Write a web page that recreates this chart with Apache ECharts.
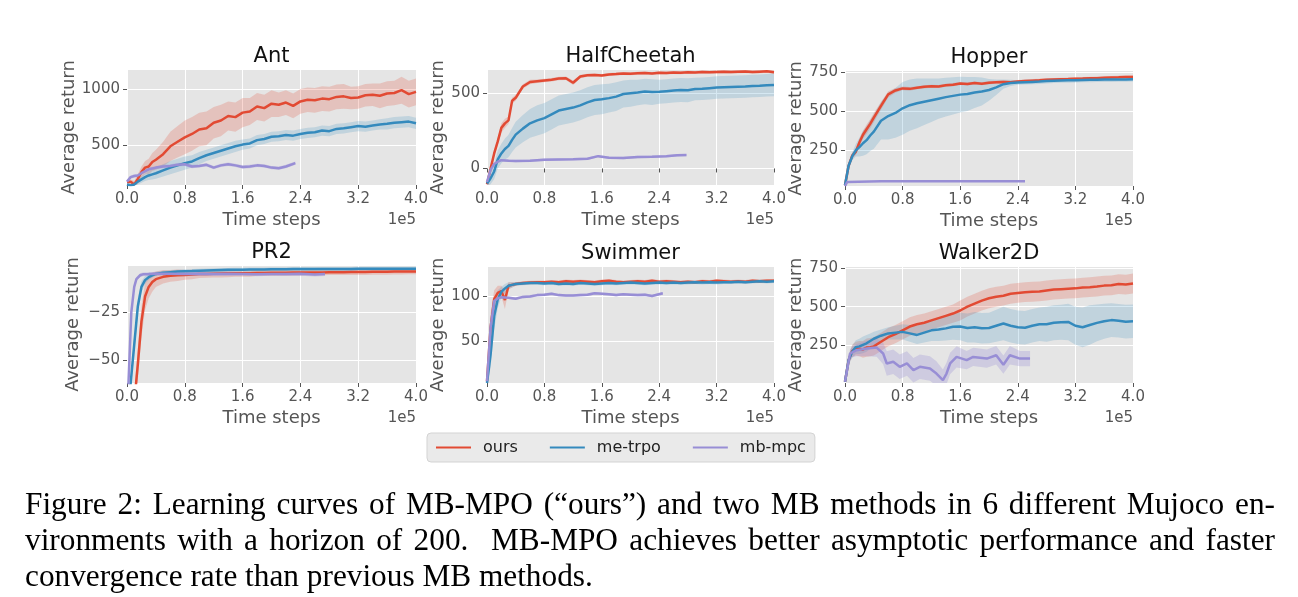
<!DOCTYPE html>
<html><head><meta charset="utf-8">
<script src="https://cdn.jsdelivr.net/npm/echarts@6/dist/echarts.min.js"></script>
<style>
html,body{margin:0;padding:0;background:#fff;width:1298px;height:597px;overflow:hidden;}
#chart{position:absolute;left:0;top:0;width:1298px;height:597px;}
#caption{position:absolute;left:25px;top:486px;width:1250px;font-family:'Liberation Serif','Times New Roman',serif;font-size:31.3px;line-height:36px;color:#000;}
#caption .j{text-align:justify;text-align-last:justify;}
</style></head><body>
<div id="chart"></div>
<div id="caption">
<div class="j">Figure 2: Learning curves of MB-MPO (“ours”) and two MB methods in 6 different Mujoco en-</div>
<div class="j">vironments with a horizon of 200.&nbsp; MB-MPO achieves better asymptotic performance and faster</div>
<div>convergence rate than previous MB methods.</div>
</div>
<script>
// ---------------- data ----------------
const panelTitles = ['Ant', 'HalfCheetah', 'Hopper', 'PR2', 'Swimmer', 'Walker2D'];
const methodNames = ['ours', 'me-trpo', 'mb-mpc'];
const xAxisName = 'Time steps';
const yAxisName = 'Average return';
const xScaleNote = '1e5';

// shared time grid (x 1e5) for ours / me-trpo
const steps = [0,0.05,0.1,0.15,0.2,0.25,0.3,0.35,0.4,
  0.5,0.6,0.7,0.8,0.9,1.0,1.1,1.2,1.3,1.4,
  1.5,1.6,1.7,1.8,1.9,2.0,2.1,2.2,2.3,2.4,
  2.5,2.6,2.7,2.8,2.9,3.0,3.1,3.2,3.3,3.4,
  3.5,3.6,3.7,3.8,3.9,4.0];

// Ant
const antOurs = [170,175,150,200,260,300,310,350,370,
  420,490,530,570,600,640,650,700,720,760,
  750,790,800,845,830,870,860,880,850,890,
  905,900,915,910,930,935,920,925,945,950,
  940,960,965,990,955,975];
const antOursSpread = [10,20,30,40,50,60,70,80,90,
  110,130,140,150,150,150,150,140,140,130,
  130,130,120,120,120,120,110,110,110,110,
  110,110,110,110,110,110,100,100,100,100,
  110,110,110,120,120,120];
const antTrpo = [150,140,150,175,195,215,230,240,250,
  275,300,320,340,355,385,410,430,450,470,
  490,505,515,545,555,575,580,590,585,600,
  610,615,630,625,645,650,660,670,665,675,
  685,690,700,705,710,695];
const antTrpoSpread = [10,15,20,25,30,35,40,45,50,
  55,60,60,60,55,55,50,50,50,50,
  50,45,45,45,45,45,45,45,45,45,
  45,45,45,45,45,45,45,45,45,45,
  45,50,50,50,50,50];
const antMpcX = [0,0.05,0.1,0.15,0.2,0.3,0.4,0.5,0.6,0.7,0.8,0.9,1.0,1.1,1.2,1.3,1.4,1.5,1.6,1.7,1.8,1.9,2.0,2.1,2.2,2.33];
const antMpc = [175,215,225,230,250,285,300,310,315,325,330,310,315,325,300,320,330,320,305,310,320,315,300,295,310,340];
const antMpcSpread = [10,15,15,15,15,15,15,15,15,15,15,15,15,15,15,15,15,15,15,15,15,15,15,15,15,15];

// HalfCheetah
const hcOurs = [-105,0,100,180,270,300,320,450,470,
  545,575,580,585,590,598,600,570,612,620,
  622,618,625,628,632,630,633,635,632,636,
  635,638,636,640,638,641,640,642,644,641,
  643,645,642,644,646,640];
const hcOursSpread = [10,15,20,25,30,30,25,20,20,
  15,15,12,12,12,12,12,15,12,10,
  10,10,10,10,10,10,10,10,10,10,
  10,10,10,10,10,10,10,10,10,10,
  10,10,10,10,10,10];
const hcTrpo = [-100,-65,-20,60,100,130,150,190,225,
  265,300,320,335,360,385,395,405,420,440,
  455,460,468,478,495,500,505,512,508,510,
  514,518,522,520,528,530,534,538,540,542,
  544,545,548,550,553,556];
const hcTrpoSpread = [20,40,50,60,65,70,75,80,85,
  90,95,100,100,100,100,100,100,100,100,
  100,100,95,95,90,90,85,85,85,80,
  80,80,80,80,75,75,75,75,75,75,
  75,75,75,75,75,75];
const hcMpcX = [0,0.05,0.1,0.15,0.2,0.3,0.4,0.6,0.8,1.0,1.2,1.4,1.55,1.7,1.9,2.1,2.3,2.5,2.65,2.78];
const hcMpc = [-90,-10,30,45,55,52,50,52,58,60,62,65,82,72,70,76,78,82,88,89];
const hcMpcSpread = [8,8,8,8,8,8,8,8,8,8,8,8,8,8,8,8,8,8,8,8];

// Hopper
const hopOurs = [25,150,215,240,300,350,385,420,460,
  535,610,635,648,645,652,658,662,660,668,
  672,680,676,683,678,685,688,690,688,692,
  695,698,700,703,705,707,708,710,711,713,
  714,716,718,719,721,722];
const hopOursSpread = [5,20,20,20,25,25,30,30,30,
  25,20,15,12,12,10,10,10,10,10,
  10,10,10,10,10,10,10,10,10,10,
  10,10,10,10,10,10,10,10,10,10,
  10,10,10,10,10,10];
const hopTrpo = [25,150,210,250,270,295,315,345,370,
  440,470,490,520,540,552,562,572,582,592,
  600,608,612,622,628,638,655,675,683,686,
  688,690,692,695,697,699,700,701,702,703,
  704,705,705,706,706,707];
const hopTrpoSpread = [5,20,25,40,60,80,90,100,110,
  120,150,160,170,165,160,150,140,130,125,
  120,115,110,100,90,70,50,30,20,15,
  15,15,15,15,15,15,15,15,15,15,
  15,15,15,15,15,15];
const hopMpcX = [0,0.03,0.05,0.5,1.0,1.5,2.0,2.5];
const hopMpc = [20,45,50,50,50,50,50,50];
const hopMpcSpread = [2,2,2,2,2,2,2,2];

// PR2
const pr2Ours = [-80,-80,-72,-52,-30,-17,-12,-9.5,-8,
  -6.8,-6.3,-6,-5.8,-5.6,-5.4,-5.3,-5.2,-5.1,-5,
  -5,-4.9,-4.9,-4.8,-4.8,-4.7,-4.7,-4.7,-4.6,-4.6,
  -4.5,-4.5,-4.5,-4.4,-4.4,-4.4,-4.3,-4.3,-4.3,-4.2,
  -4.2,-4.2,-4.1,-4.1,-4,-4];
const pr2OursSpread = [2,2,6,8,8,7,6,5,4,
  3.5,3,3,2.5,2.5,2,2,2,2,2,
  1.8,1.8,1.8,1.5,1.5,1.5,1.5,1.5,1.5,1.5,
  1.5,1.5,1.5,1.5,1.5,1.5,1.5,1.5,1.5,1.5,
  1.5,1.5,1.5,1.5,1.5,1.5];
const pr2Trpo = [-80,-62,-42,-22,-12,-8.5,-7,-6,-5.3,
  -4.7,-4.4,-4.1,-3.9,-3.8,-3.6,-3.5,-3.4,-3.3,-3.2,
  -3.1,-3.1,-3,-3,-3,-2.9,-2.9,-2.9,-2.8,-2.8,
  -2.8,-2.8,-2.7,-2.7,-2.7,-2.7,-2.7,-2.6,-2.6,-2.6,
  -2.6,-2.6,-2.6,-2.6,-2.6,-2.6];
const pr2TrpoSpread = [2,4,5,4,3,2,1.5,1.2,1,
  1,1,1,1,1,1,1,1,1,1,
  1,1,1,1,1,1,1,1,1,1,
  1,1,1,1,1,1,1,1,1,1,
  1,1,1,1,1,1];
const pr2MpcX = [0,0.02,0.06,0.1,0.13,0.18,0.22,0.3,0.4,0.6,0.8,1.0,1.2,1.4,1.6,1.8,2.0,2.2,2.4,2.6,2.74];
const pr2Mpc = [-80,-62,-25,-12,-8,-6,-5.5,-5.4,-5.2,-5.2,-5.3,-5.2,-5.4,-5.2,-5.3,-5.5,-5.3,-5.4,-5.2,-5.6,-5.4];
const pr2MpcSpread = [1,1,1,1,1,1,1,1,1,1,1,1,1,1,1,1,1,1,1,1,1];

// Swimmer
const swOurs = [5,65,97,104,106,96,112,113,114,
  115,115.5,116,116,116.5,116,117,116.5,117,116.5,
  116,117,117.5,116.5,116,116.5,117,116.5,117.5,116.5,
  117,116.5,116,116.5,116,117,116.5,117.5,117,116.5,
  117,116.5,117.5,117,117.5,117.5];
const swOursSpread = [2,15,10,8,6,10,4,3,2,
  2,2,2,2,2,2,2,2,2,2,
  2,2,2,2,2,2,2,2,2,2,
  2,2,2,2,2,2,2,2,2,2,
  2,2,2,2,2,2];
const swTrpo = [3,35,78,97,105,109,112,113,114,
  114.5,115,115,114.5,115,114,114.5,114,115,114.5,
  114,114.5,115,114.5,115,115.5,115,114.5,115,115.5,
  115,115.5,115,115.5,116,115.5,116,115.5,116,116,
  116.5,116,116.5,117,116.5,117];
const swTrpoSpread = [2,15,15,10,6,5,4,3,2,
  2,2,2,2,2,2,2,2,2,2,
  2,2,2,2,2,2,2,2,2,2,
  2,2,2,2,2,2,2,2,2,2,
  2,2,2,2,2,2];
const swMpcX = [0,0.05,0.1,0.15,0.2,0.3,0.4,0.5,0.6,0.7,0.8,0.9,1.0,1.1,1.2,1.3,1.4,1.5,1.6,1.7,1.8,1.9,2.0,2.1,2.2,2.3,2.45];
const swMpc = [5,65,95,98,99,98.5,97.5,99.5,100,101.5,102,103,101.5,101,101,101.5,102,103.5,103,102.5,101.5,102.5,102,101.5,102,100.5,103.5];
const swMpcSpread = [1.5,1.5,1.5,1.5,1.5,1.5,1.5,1.5,1.5,1.5,1.5,1.5,1.5,1.5,1.5,1.5,1.5,1.5,1.5,1.5,1.5,1.5,1.5,1.5,1.5,1.5,1.5];

// Walker2D
const wkOurs = [8,150,210,225,225,220,232,235,240,
  270,300,320,345,370,385,395,410,425,440,
  455,475,500,520,540,555,565,572,585,590,
  595,598,600,606,612,615,618,620,625,628,
  632,638,640,648,645,652];
const wkOursSpread = [5,30,40,45,50,55,60,60,60,
  60,60,60,60,60,60,60,60,60,60,
  60,65,65,65,65,65,65,65,65,65,
  65,65,65,65,65,65,65,65,65,65,
  65,65,65,65,65,65];
const wkTrpo = [8,150,205,235,240,250,260,275,290,
  310,325,330,335,325,315,330,345,350,358,
  368,370,360,365,358,360,375,390,375,365,
  362,375,385,385,395,398,400,375,365,380,
  394,405,412,408,402,405];
const wkTrpoSpread = [5,30,40,45,50,55,55,50,45,
  40,40,45,50,55,60,65,70,75,80,
  85,90,95,100,100,100,105,110,110,110,
  110,110,110,115,115,115,120,125,130,130,
  120,115,110,110,110,110];
const wkMpcX = [0,0.07,0.16,0.3,0.44,0.53,0.58,0.67,0.76,0.86,0.95,1.04,1.18,1.27,1.36,1.41,1.46,1.55,1.69,1.78,1.97,2.1,2.2,2.29,2.43,2.57];
const wkMpc = [8,193,215,226,232,193,128,139,106,128,84,106,95,62,19,62,128,171,150,171,160,182,120,182,160,160];
const wkMpcSpread = [5,30,40,50,60,70,80,80,80,80,80,80,80,80,70,70,70,70,60,60,60,60,60,60,50,50];

// axis ranges and tick values
const yRanges = [[145, 1170], [-110, 655], [20, 760], [-61.7, -1.2], [3, 133], [0, 760]];
const yTickValues = [[500, 1000], [0, 500], [250, 500, 750], [-50, -25], [50, 100], [250, 500, 750]];
const xRange = [0, 4];
const xInterval = 0.8;

// ---------------- layout / style ----------------
const grids = [[127,70,289,115],[487,70,287,115],[845,71,288,115],
               [127,266,289,117],[487,267,287,116],[845,267,288,116]];
const yNameGaps = [47, 38, 38, 45, 40, 38];
const lineColors = ['#E24A33', '#348ABD', '#988ED5'];
const bandColors = ['rgba(226,74,51,0.22)', 'rgba(52,138,189,0.2)', 'rgba(152,142,213,0.3)'];
const FONT = 'DejaVu Sans';

const panels = [
  [[steps, antOurs, antOursSpread], [steps, antTrpo, antTrpoSpread], [antMpcX, antMpc, antMpcSpread]],
  [[steps, hcOurs, hcOursSpread], [steps, hcTrpo, hcTrpoSpread], [hcMpcX, hcMpc, hcMpcSpread]],
  [[steps, hopOurs, hopOursSpread], [steps, hopTrpo, hopTrpoSpread], [hopMpcX, hopMpc, hopMpcSpread]],
  [[steps, pr2Ours, pr2OursSpread], [steps, pr2Trpo, pr2TrpoSpread], [pr2MpcX, pr2Mpc, pr2MpcSpread]],
  [[steps, swOurs, swOursSpread], [steps, swTrpo, swTrpoSpread], [swMpcX, swMpc, swMpcSpread]],
  [[steps, wkOurs, wkOursSpread], [steps, wkTrpo, wkTrpoSpread], [wkMpcX, wkMpc, wkMpcSpread]]
];

const option = {
  animation: false,
  grid: [], xAxis: [], yAxis: [], series: [], graphic: [],
  legend: {
    data: methodNames, left: 427, top: 433, orient: 'horizontal',
    icon: 'rect', itemWidth: 35, itemHeight: 2, itemGap: 32,
    padding: [6, 9, 6, 9], backgroundColor: '#EAEAEA', borderColor: '#D3D3D3',
    borderWidth: 1, borderRadius: 4, selectedMode: false,
    textStyle: { color: '#222', fontSize: 16, fontFamily: FONT, lineHeight: 17, padding: [0, 0, 0, 7] }
  }
};

const fmtY = v => String(v).replace('-', '\u2212');

function bandSeries(i, j, xs, mean, spread) {
  const rows = xs.map((x, k) => [x, mean[k] - spread[k], mean[k] + spread[k]]);
  return {
    type: 'custom', name: 'band' + i + j, xAxisIndex: i, yAxisIndex: i, silent: true, clip: true,
    encode: { x: 0, y: [1, 2] },
    data: rows,
    renderItem: (params, api) => {
      if (params.dataIndex !== 0) return null;
      const pts = [];
      rows.forEach(r => pts.push(api.coord([r[0], r[2]])));
      for (let k = rows.length - 1; k >= 0; k--) pts.push(api.coord([rows[k][0], rows[k][1]]));
      const cs = params.coordSys;
      return {
        type: 'polygon', shape: { points: pts }, style: { fill: bandColors[j], stroke: null },
        clipPath: { type: 'rect', shape: { x: cs.x, y: cs.y, width: cs.width, height: cs.height } }
      };
    }
  };
}

panels.forEach((p, i) => {
  const [l, t, w, h] = grids[i];
  option.grid.push({ left: l, top: t, width: w, height: h, show: true, backgroundColor: '#E5E5E5', borderWidth: 0 });
  option.xAxis.push({
    type: 'value', gridIndex: i, min: xRange[0], max: xRange[1], interval: xInterval,
    axisLine: { show: false },
    axisTick: { show: true, length: 4, lineStyle: { color: '#555' } },
    axisLabel: { color: '#555', fontSize: 15, fontFamily: FONT, margin: 7, showMinLabel: true, showMaxLabel: true, hideOverlap: false, formatter: v => v.toFixed(1) },
    splitLine: { show: true, lineStyle: { color: '#fff', width: 1 } },
    name: xAxisName, nameLocation: 'middle', nameGap: 26,
    nameTextStyle: { color: '#555', fontSize: 18, fontFamily: FONT }
  });
  option.yAxis.push({
    type: 'value', gridIndex: i, min: yRanges[i][0], max: yRanges[i][1],
    axisLine: { show: false },
    axisTick: { show: true, length: 4, lineStyle: { color: '#555' }, customValues: yTickValues[i] },
    axisLabel: { color: '#555', fontSize: 15, fontFamily: FONT, margin: 7, customValues: yTickValues[i], formatter: fmtY },
    splitLine: { show: true, lineStyle: { color: '#fff', width: 1 } },
    name: yAxisName, nameLocation: 'middle', nameGap: yNameGaps[i],
    nameTextStyle: { color: '#555', fontSize: 18, fontFamily: FONT }
  });
  p.forEach((s, j) => option.series.push(bandSeries(i, j, s[0], s[1], s[2])));
  p.forEach((s, j) => {
    const [xs, mean] = s;
    option.series.push({
      type: 'line', name: methodNames[j], xAxisIndex: i, yAxisIndex: i,
      symbol: 'none', silent: true, emphasis: { disabled: true },
      itemStyle: { color: lineColors[j] },
      lineStyle: { color: lineColors[j], width: 2.5 },
      data: xs.map((x, k) => [x, mean[k]])
    });
  });
  option.graphic.push({
    type: 'text', x: l + w / 2, y: t - 13, silent: true,
    style: { text: panelTitles[i], font: '21px "DejaVu Sans"', fill: '#111', align: 'center', verticalAlign: 'middle', textAlign: 'center', textVerticalAlign: 'middle' }
  });
  option.graphic.push({
    type: 'text', x: l + w, y: t + h + 35, silent: true,
    style: { text: xScaleNote, font: '15px "DejaVu Sans"', fill: '#555', align: 'right', verticalAlign: 'middle', textAlign: 'right', textVerticalAlign: 'middle' }
  });
});

const chart = echarts.init(document.getElementById('chart'), null, { renderer: 'canvas' });
chart.setOption(option);
</script>
</body></html>
